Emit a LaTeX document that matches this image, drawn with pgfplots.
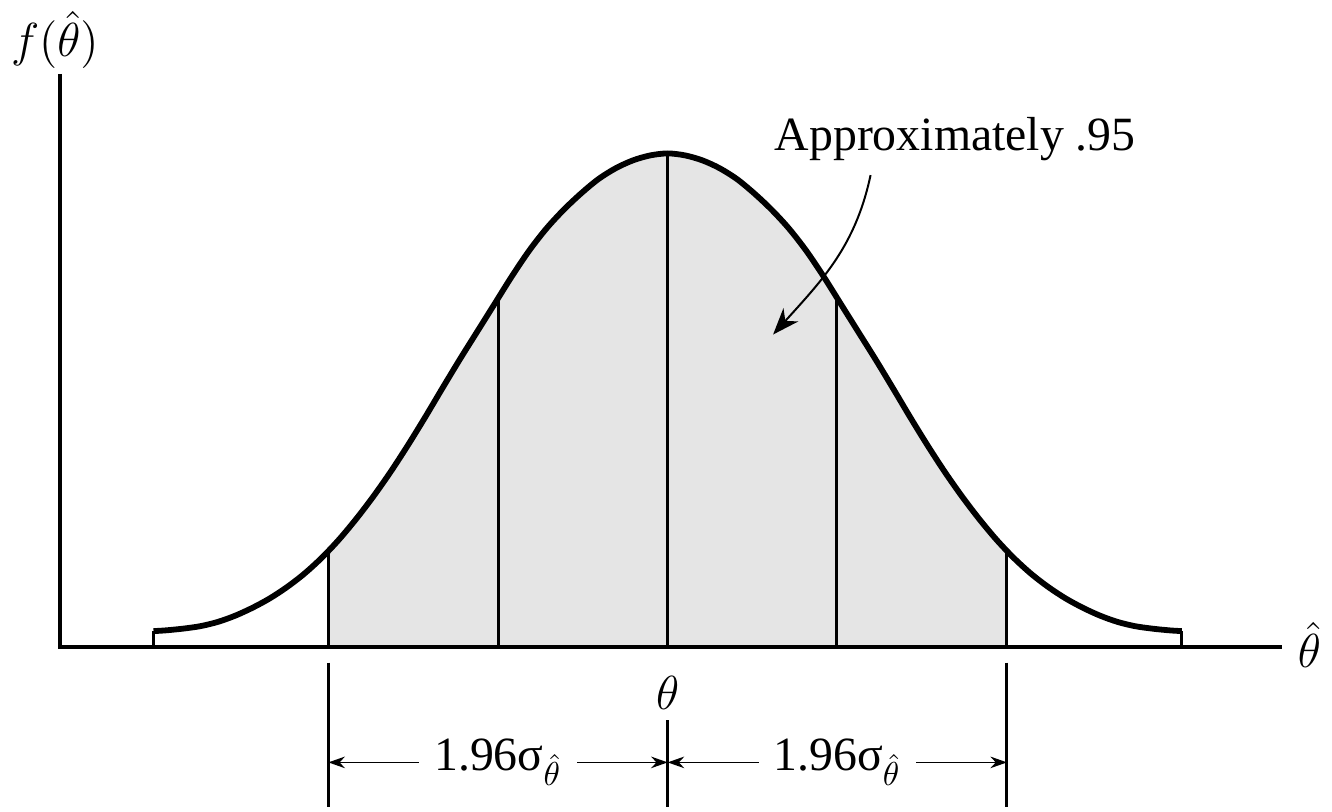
\documentclass[border=0pt]{standalone}
\usepackage{fontspec}
\setmainfont{Liberation Serif}
\usepackage{pgfplots}
\pgfplotsset{compat=1.18}
\usepackage{pgfplotstable}
\usepgfplotslibrary{fillbetween}
\usetikzlibrary{arrows.meta}

% sampling distribution of the estimator, in units of sigma around theta
\pgfplotstableread{
x y
-2.97 0.032
-2.9 0.0335
-2.8 0.037
-2.7 0.042
-2.6 0.0505
-2.5 0.063
-2.4 0.079
-2.3 0.098
-2.2 0.121
-2.1 0.148
-2.0 0.180
-1.9 0.217
-1.8 0.259
-1.7 0.305
-1.6 0.355
-1.5 0.409
-1.4 0.466
-1.3 0.525
-1.2 0.583
-1.1 0.639
-1.0 0.695
-0.9 0.751
-0.8 0.803
-0.7 0.848
-0.6 0.886
-0.5 0.919
-0.4 0.948
-0.3 0.970
-0.2 0.986
-0.1 0.996
0 1.000
0.1 0.996
0.2 0.986
0.3 0.970
0.4 0.948
0.5 0.919
0.6 0.886
0.7 0.848
0.8 0.803
0.9 0.751
1.0 0.695
1.1 0.639
1.2 0.583
1.3 0.525
1.4 0.466
1.5 0.409
1.6 0.355
1.7 0.305
1.8 0.259
1.9 0.217
2.0 0.180
2.1 0.148
2.2 0.121
2.3 0.098
2.4 0.079
2.5 0.063
2.6 0.0505
2.7 0.042
2.8 0.037
2.9 0.0335
2.97 0.032
}\curvedata

% vertical rules under the curve
\pgfplotstableread{
x y
-2.97 0.032
-1.96 0.194
-0.975 0.709
0 1.000
0.975 0.709
1.96 0.194
2.97 0.032
}\drops

\begin{document}
\begin{tikzpicture}[font=\fontsize{14.4}{17}\selectfont]
\begin{axis}[
  scale only axis, width=399.6pt, height=242.7pt,
  xmin=-3.828, xmax=3.828, ymin=-0.3327, ymax=1.2984,
  hide axis, clip=false,
]
\path (rel axis cs:0,0) rectangle (rel axis cs:1,1);

% shaded central region
\addplot[draw=none, smooth, name path=curve] table {\curvedata};
\path[name path=base] (axis cs:-3.2,0) -- (axis cs:3.2,0);
\addplot[fill=gray!20, draw=none] fill between[of=curve and base, soft clip={domain=-1.96:1.96}];

% rules from the axis up to the curve
\addplot[ycomb, line width=0.9pt, mark=none] table {\drops};

% density curve
\addplot[line width=1.75pt, smooth, mark=none] table {\curvedata};

% axes
\draw[line width=1pt] (axis cs:-3.511,1.161) -- (axis cs:-3.511,0) -- (axis cs:3.546,0);

% axis labels
\node at (axis cs:-3.540,1.230) {$f(\hat\theta)$};
\node at (axis cs:3.707,0.004) {$\hat\theta$};
\node at (axis cs:0,-0.093) {$\theta$};

% annotation
\node at (axis cs:1.661,1.030) {Approximately .95};
\draw[line width=0.6pt, -{Stealth[length=8pt,width=6pt,inset=2.5pt]}]
  (axis cs:1.172,0.956) to[out=-102,in=48] (axis cs:0.609,0.633);

% dimension lines
\draw[line width=0.9pt] (axis cs:-1.96,-0.032) -- (axis cs:-1.96,-0.325);
\draw[line width=0.9pt] (axis cs:0,-0.149) -- (axis cs:0,-0.325);
\draw[line width=0.9pt] (axis cs:1.96,-0.032) -- (axis cs:1.96,-0.325);
\draw[line width=0.45pt, {Stealth[length=5pt,width=3.5pt]}-{Stealth[length=5pt,width=3.5pt]}]
  (axis cs:-1.96,-0.234) -- (axis cs:0,-0.234)
  node[midway, fill=white, inner xsep=4.5pt, inner ysep=1pt] {1.96σ$_{\hat\theta}$};
\draw[line width=0.45pt, {Stealth[length=5pt,width=3.5pt]}-{Stealth[length=5pt,width=3.5pt]}]
  (axis cs:0,-0.234) -- (axis cs:1.96,-0.234)
  node[midway, fill=white, inner xsep=4.5pt, inner ysep=1pt] {1.96σ$_{\hat\theta}$};
\end{axis}
\end{tikzpicture}
\end{document}
